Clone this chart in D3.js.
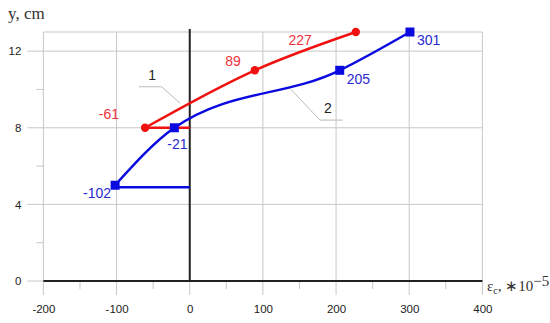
<!DOCTYPE html>
<html>
<head>
<meta charset="utf-8">
<script src="https://cdn.jsdelivr.net/npm/d3@7"></script>
<style>
  body { margin: 0; background: #fff; }
  text { font-family: "Liberation Sans", Arial, sans-serif; }
  .serif { font-family: "Liberation Serif", "Times New Roman", serif; }
</style>
</head>
<body>
<svg id="chart" width="550" height="323"></svg>
<script>
// curve 1 (red)
const redX = [-61, 89, 227]
const redY = [8, 11, 13]
const redFlat = [-61, 0]      // horizontal segment at y = 8
const redFlatY = 8

// curve 2 (blue)
const blueX = [-102, -21, 205, 301]
const blueY = [5, 8, 11, 13]
const blueFlat = [-102, 0]    // horizontal segment at y = 4.9
const blueFlatY = 4.9

const xTicks = [-200, -100, 0, 100, 200, 300, 400]
const xMinor = [-150, -50, 50, 150, 250, 350]
const yTicks = [0, 4, 8, 12]
const yMinor = [2, 6, 10]

const red = "#f01010", redText = "#f0303a"
const blue = "#0a0ae0", blueText = "#2a2ad0"
const grid = "#c8c8c8"

const svg = d3.select("#chart")
const x = d3.scaleLinear().domain([-200, 400]).range([43.4, 482.4])
const y = d3.scaleLinear().domain([0, 13]).range([281, 32])

// grid
svg.append("g").selectAll("line")
    .data(xTicks)
    .join("line")
    .attr("x1", d => x(d)).attr("x2", d => x(d))
    .attr("y1", y(13)).attr("y2", y(0) + 14)
    .attr("stroke", grid).attr("stroke-width", 1)

svg.append("g").selectAll("line")
    .data(yTicks.concat([13]))
    .join("line")
    .attr("x1", d => d === 13 ? x(-200) : x(-200) - 16)
    .attr("x2", x(400))
    .attr("y1", d => y(d)).attr("y2", d => y(d))
    .attr("stroke", grid).attr("stroke-width", 1)

// minor ticks
svg.append("g").selectAll("line")
    .data(yMinor)
    .join("line")
    .attr("x1", x(-200) - 7).attr("x2", x(-200))
    .attr("y1", d => y(d)).attr("y2", d => y(d))
    .attr("stroke", grid)

svg.append("g").selectAll("line")
    .data(xMinor)
    .join("line")
    .attr("x1", d => x(d)).attr("x2", d => x(d))
    .attr("y1", y(0)).attr("y2", y(0) + 8)
    .attr("stroke", grid)

// main axes (black)
svg.append("line")
    .attr("x1", x(-200)).attr("x2", x(400))
    .attr("y1", y(0)).attr("y2", y(0))
    .attr("stroke", "#222").attr("stroke-width", 2)
svg.append("line")
    .attr("x1", x(0)).attr("x2", x(0))
    .attr("y1", y(13) - 3).attr("y2", y(0))
    .attr("stroke", "#222").attr("stroke-width", 2)

// tick labels via d3 axes, lines hidden
const xAxis = svg.append("g")
    .attr("transform", `translate(0,${y(0)})`)
    .call(d3.axisBottom(x).tickValues(xTicks).tickSize(0).tickPadding(24).tickFormat(d => String(d)))
xAxis.select(".domain").remove()
xAxis.selectAll("text").attr("font-size", 11.5).attr("fill", "#222")
    .attr("font-family", "Liberation Sans, Arial, sans-serif")

const yAxis = svg.append("g")
    .attr("transform", `translate(${x(-200)},0)`)
    .call(d3.axisLeft(y).tickValues(yTicks).tickSize(0).tickPadding(22).tickFormat(d => String(d)))
yAxis.select(".domain").remove()
yAxis.selectAll("text").attr("font-size", 11.5).attr("fill", "#222")
    .attr("font-family", "Liberation Sans, Arial, sans-serif")

// axis titles
svg.append("text").attr("class", "serif")
    .attr("x", 8).attr("y", 19)
    .attr("font-size", 17).attr("fill", "#333")
    .text("y, cm")

const xt = svg.append("text").attr("class", "serif")
    .attr("x", 487).attr("y", 291)
    .attr("font-size", 15).attr("fill", "#333")
xt.append("tspan").text("ε")
xt.append("tspan").attr("font-size", 10).attr("dy", 3).text("c")
xt.append("tspan").attr("dy", -3).text(", ∗10")
xt.append("tspan").attr("dy", -5).text("−5")

// callouts
const callLine = d3.line().x(d => x(d[0])).y(d => y(d[1]))
svg.append("path")
    .attr("d", callLine([[-69.3, 10.14], [-38.3, 10.14], [-13.3, 9.28]]))
    .attr("fill", "none").attr("stroke", "#bbb").attr("stroke-width", 1)
svg.append("path")
    .attr("d", callLine([[138, 10.02], [178, 8.4], [209, 8.4]]))
    .attr("fill", "none").attr("stroke", "#bbb").attr("stroke-width", 1)
svg.append("text").attr("x", x(-51.5)).attr("y", y(10.76) + 5)
    .attr("text-anchor", "middle").attr("font-size", 14).attr("fill", "#222").text("1")
svg.append("text").attr("x", x(189)).attr("y", y(9.03) + 5)
    .attr("text-anchor", "middle").attr("font-size", 14).attr("fill", "#222").text("2")

// series
const line = d3.line().x(d => x(d[0])).y(d => y(d[1])).curve(d3.curveMonotoneX)
const redPts = redX.map((v, i) => [v, redY[i]])
const bluePts = blueX.map((v, i) => [v, blueY[i]])

svg.append("path").attr("d", callLine(redFlat.map(v => [v, redFlatY])))
    .attr("stroke", red).attr("stroke-width", 2.5).attr("fill", "none")
svg.append("path").attr("d", callLine(blueFlat.map(v => [v, blueFlatY])))
    .attr("stroke", blue).attr("stroke-width", 2.5).attr("fill", "none")

svg.append("path").attr("d", line(redPts))
    .attr("stroke", red).attr("stroke-width", 2.5).attr("fill", "none")
svg.append("path").attr("d", line(bluePts))
    .attr("stroke", blue).attr("stroke-width", 2.5).attr("fill", "none")

svg.append("g").selectAll("circle")
    .data(redPts)
    .join("circle")
    .attr("cx", d => x(d[0])).attr("cy", d => y(d[1]))
    .attr("r", 4.2).attr("fill", red)

svg.append("g").selectAll("rect")
    .data(bluePts)
    .join("rect")
    .attr("x", d => x(d[0]) - 4.5).attr("y", d => y(d[1]) - 4.5)
    .attr("width", 9).attr("height", 9).attr("fill", blue)

// value labels: [anchor, dx, dy]
const redLab = [["end", -26, -9], ["end", -14, -4], ["end", -44, 13]]
const blueLab = [["end", -4, 13], ["middle", 3, 21], ["start", 7, 14], ["start", 7, 13]]

svg.append("g").selectAll("text")
    .data(redPts)
    .join("text")
    .attr("x", (d, i) => x(d[0]) + redLab[i][1])
    .attr("y", (d, i) => y(d[1]) + redLab[i][2])
    .attr("text-anchor", (d, i) => redLab[i][0])
    .attr("font-size", 14).attr("fill", redText)
    .text(d => d[0])

svg.append("g").selectAll("text")
    .data(bluePts)
    .join("text")
    .attr("x", (d, i) => x(d[0]) + blueLab[i][1])
    .attr("y", (d, i) => y(d[1]) + blueLab[i][2])
    .attr("text-anchor", (d, i) => blueLab[i][0])
    .attr("font-size", 14).attr("fill", blueText)
    .text(d => d[0])
</script>
</body>
</html>
